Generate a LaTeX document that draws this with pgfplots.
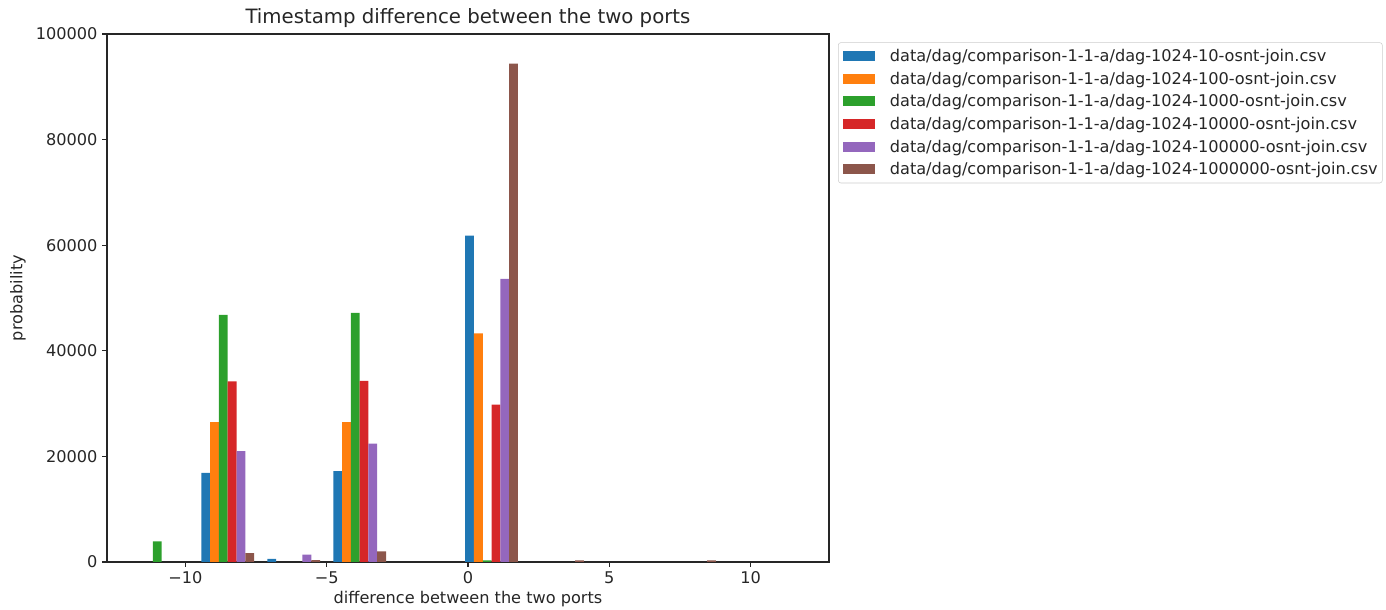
\documentclass[border=0pt]{standalone}
\usepackage{pgfplots}
\pgfplotsset{compat=1.18}
\usepackage{fontspec}
\setmainfont{DejaVu Sans}
\definecolor{c0}{HTML}{1F77B4}
\definecolor{c1}{HTML}{FF7F0E}
\definecolor{c2}{HTML}{2CA02C}
\definecolor{c3}{HTML}{D62728}
\definecolor{c4}{HTML}{9467BD}
\definecolor{c5}{HTML}{8C564B}
\definecolor{txt}{HTML}{262626}
\begin{document}
\begin{tikzpicture}
\path[use as bounding box] (0pt,0pt) rectangle (1039.5pt,457.5pt);
\begin{axis}[
  at={(80.25pt,36pt)}, anchor=south west,
  width=541.5pt, height=396pt, scale only axis,
  xmin=-12.77, xmax=12.77, ymin=0, ymax=100000,
  axis line style={black!85, line width=0.83pt},
  tick style={black!85, line width=0.83pt},
  tick align=outside, major tick length=3.65pt,
  xtick={-10,-5,0,5,10},
  xticklabels={−10,−5,0,5,10},
  ytick={0,20000,40000,60000,80000,100000},
  yticklabels={0,20000,40000,60000,80000,100000},
  scaled y ticks=false,
  xtick pos=bottom, ytick pos=left,
  ticklabel style={font=\fontsize{12.1}{14.5}\selectfont, text=txt},
  xticklabel style={yshift=0pt},
  yticklabel style={xshift=0pt},
  legend style={at={(1.01247,0.9842)}, anchor=north west,
    draw=black!20, rounded corners=2pt, fill=white,
    font=\fontsize{12.1}{14.5}\selectfont, text=txt,
    inner xsep=3.5pt, inner ysep=1.8pt, row sep=0pt,
    nodes={inner xsep=0pt, inner ysep=0pt, text height=12.6pt, text depth=4.35pt},
    cells={anchor=west}},
  legend image code/.code={\fill[#1, sharp corners] (0pt,-3.75pt) rectangle (24pt,3.75pt); \path (35.2pt,0pt);},
  legend cell align=left,
]
\addplot[ybar, bar width=0.31111, bar shift=0pt, fill=c0, draw=none] coordinates {(-9.2778,16900) (-6.9444,600) (-4.6111,17200) (0.0556,61800)};
\addlegendentry{data/dag/comparison-1-1-a/dag-1024-10-osnt-join.csv}
\addplot[ybar, bar width=0.31111, bar shift=0pt, fill=c1, draw=none] coordinates {(-8.9667,26500) (-4.3,26500) (0.3667,43300)};
\addlegendentry{data/dag/comparison-1-1-a/dag-1024-100-osnt-join.csv}
\addplot[ybar, bar width=0.31111, bar shift=0pt, fill=c2, draw=none] coordinates {(-10.9889,3900) (-8.6556,46800) (-3.9889,47200) (0.6778,300)};
\addlegendentry{data/dag/comparison-1-1-a/dag-1024-1000-osnt-join.csv}
\addplot[ybar, bar width=0.31111, bar shift=0pt, fill=c3, draw=none] coordinates {(-8.3444,34200) (-3.6778,34300) (0.9889,29800)};
\addlegendentry{data/dag/comparison-1-1-a/dag-1024-10000-osnt-join.csv}
\addplot[ybar, bar width=0.31111, bar shift=0pt, fill=c4, draw=none] coordinates {(-8.0333,21000) (-5.7,1400) (-3.3667,22400) (1.3,53600)};
\addlegendentry{data/dag/comparison-1-1-a/dag-1024-100000-osnt-join.csv}
\addplot[ybar, bar width=0.31111, bar shift=0pt, fill=c5, draw=none] coordinates {(-7.7222,1700) (-5.3889,350) (-3.0556,2000) (1.6111,94400) (3.9444,300) (8.6111,300)};
\addlegendentry{data/dag/comparison-1-1-a/dag-1024-1000000-osnt-join.csv}
\end{axis}
\node[anchor=base, text=txt, font=\fontsize{14.8}{17.5}\selectfont] at (351pt,439.5pt) {Timestamp difference between the two ports};
\node[anchor=base, text=txt, font=\fontsize{12.1}{14.5}\selectfont] at (351pt,4.5pt) {difference between the two ports};
\node[anchor=center, rotate=90, text=txt, font=\fontsize{12.1}{14.5}\selectfont] at (13.5pt,234pt) {probability};
\end{tikzpicture}
\end{document}
